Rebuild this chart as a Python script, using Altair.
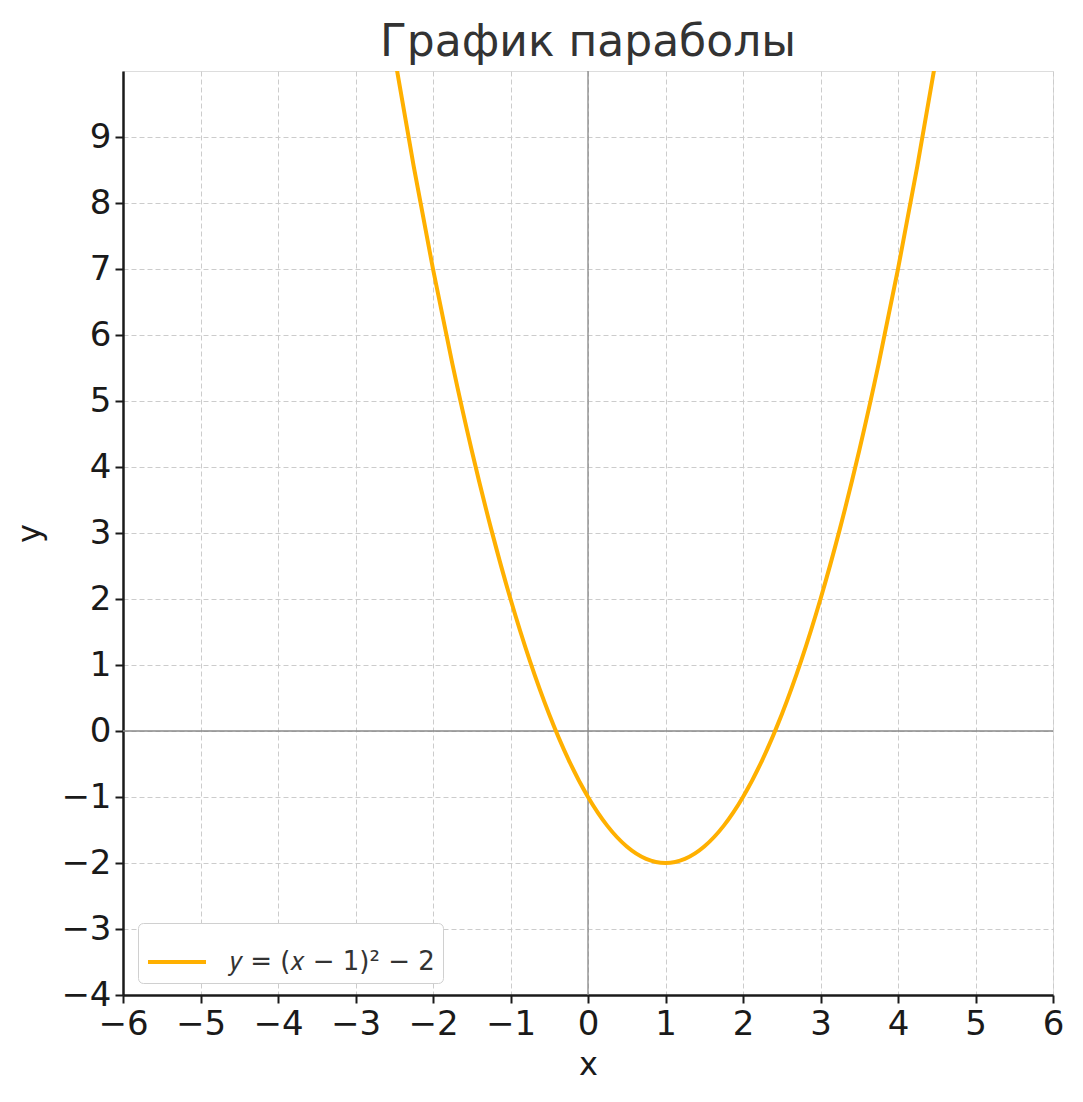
import altair as alt
import pandas as pd

# values
xs = [-2.5, -2.25, -2.0, -1.75, -1.5, -1.25, -1.0, -0.75, -0.5, -0.25, 0.0, 0.25, 0.5, 0.75,
      1.0, 1.25, 1.5, 1.75, 2.0, 2.25, 2.5, 2.75, 3.0, 3.25, 3.5, 3.75, 4.0, 4.25, 4.5]
ys = [10.25, 8.5625, 7.0, 5.5625, 4.25, 3.0625, 2.0, 1.0625, 0.25, -0.4375, -1.0, -1.4375, -1.75, -1.9375,
      -2.0, -1.9375, -1.75, -1.4375, -1.0, -0.4375, 0.25, 1.0625, 2.0, 3.0625, 4.25, 5.5625, 7.0, 8.5625, 10.25]
series_label = "𝑦 = (𝑥 − 1)² − 2"
x_ticks = [-6, -5, -4, -3, -2, -1, 0, 1, 2, 3, 4, 5, 6]
y_ticks = [-4, -3, -2, -1, 0, 1, 2, 3, 4, 5, 6, 7, 8, 9]

df = pd.DataFrame({"x": xs, "y": ys, "s": [series_label] * len(xs)})

FONT = "DejaVu Sans"

xscale = alt.Scale(domain=[-6, 6], nice=False, zero=False)
yscale = alt.Scale(domain=[-4, 10], nice=False, zero=False)

common = dict(grid=True, gridDash=[5, 3], gridColor="#cccccc", gridWidth=1,
              domainColor="#1a1a1a", domainWidth=2.5, tickColor="#1a1a1a",
              tickWidth=2, tickSize=8, labelFontSize=34, labelColor="#1a1a1a",
              labelFont=FONT, titleFont=FONT, titleFontSize=32, titleFontWeight="normal",
              titleColor="#1a1a1a", labelPadding=4, labelFlush=False)
xaxis = alt.Axis(values=x_ticks, title="x", titlePadding=8, **common)
yaxis = alt.Axis(values=y_ticks, title="y", titlePadding=14, **common)

zero_h = alt.Chart(pd.DataFrame({"v": [0]})).mark_rule(color="#888888", strokeWidth=1.3).encode(
    y=alt.Y("v:Q", scale=yscale, axis=yaxis))
zero_v = alt.Chart(pd.DataFrame({"v": [0]})).mark_rule(color="#888888", strokeWidth=1.3).encode(
    x=alt.X("v:Q", scale=xscale, axis=xaxis))

line = alt.Chart(df).mark_line(strokeWidth=4, clip=True, interpolate="monotone").encode(
    x=alt.X("x:Q", scale=xscale, axis=xaxis),
    y=alt.Y("y:Q", scale=yscale, axis=yaxis),
    color=alt.Color("s:N", scale=alt.Scale(range=["#FFB000"]),
                    legend=alt.Legend(title=None, orient="none", legendX=15, legendY=852,
                                      symbolType="stroke", symbolSize=3364, symbolStrokeWidth=4,
                                      labelFontSize=26, labelFont=FONT, labelColor="#333333",
                                      labelLimit=0, strokeColor="#d0d0d0", fillColor="white",
                                      padding=8, cornerRadius=5, labelOffset=22)),
)

chart = alt.layer(zero_h, zero_v, line).properties(
    width=930, height=924,
    padding={"top": 13, "left": 5, "right": 5, "bottom": 5},
    title=alt.TitleParams("График параболы", fontSize=44, font=FONT, fontWeight="normal",
                          color="#333333", offset=5),
).configure_view(stroke=None).configure(background="white")

chart.save("out.html", embed_options={"renderer": "svg", "actions": False})
